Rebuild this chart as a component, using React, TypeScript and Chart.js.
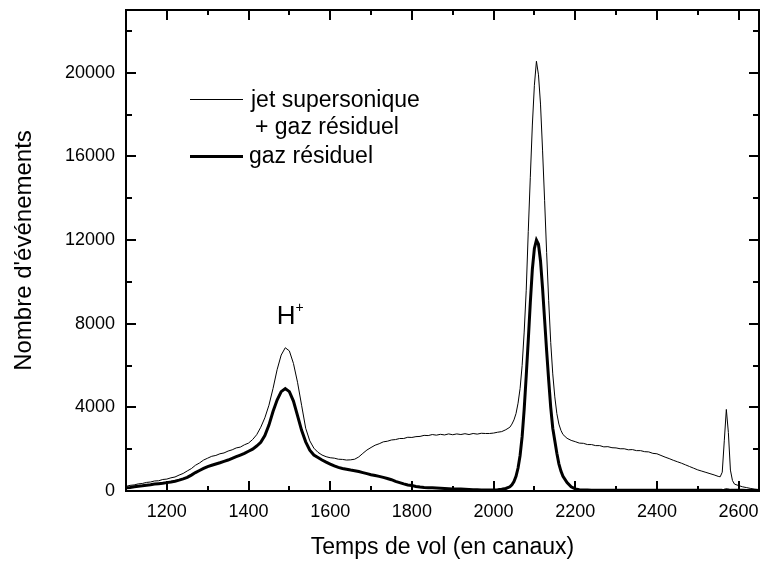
import React, { useEffect, useRef } from "react";
import { Chart, registerables } from "chart.js";

Chart.register(...registerables);

// Channels (temps de vol, en canaux)
const channels = [
  1100, 1110, 1120, 1130, 1140, 1150, 1160, 1170, 1180, 1190,
  1200, 1210, 1220, 1230, 1240, 1250, 1260, 1270, 1280, 1290,
  1300, 1310, 1320, 1330, 1340, 1350, 1360, 1370, 1380, 1390,
  1400, 1410, 1420, 1430, 1440, 1450, 1460, 1470, 1480, 1490,
  1500, 1510, 1520, 1530, 1540, 1550, 1560, 1570, 1580, 1590,
  1600, 1610, 1620, 1630, 1640, 1650, 1660, 1670, 1680, 1690,
  1700, 1710, 1720, 1730, 1740, 1750, 1760, 1770, 1780, 1790,
  1800, 1810, 1820, 1830, 1840, 1850, 1860, 1870, 1880, 1890,
  1900, 1910, 1920, 1930, 1940, 1950, 1960, 1970, 1980, 1990,
  2000, 2010, 2020, 2030, 2040,
  2045, 2050, 2055, 2060, 2065, 2070, 2075, 2080, 2085, 2090,
  2095, 2100, 2105, 2110, 2115, 2120, 2125, 2130, 2135, 2140,
  2145, 2150, 2155, 2160, 2165, 2170,
  2180, 2190, 2200, 2210, 2220, 2230, 2240, 2250, 2260, 2270,
  2280, 2290, 2300, 2310, 2320, 2330, 2340, 2350, 2360, 2370,
  2380, 2390, 2400, 2410, 2420, 2430, 2440, 2450, 2460, 2470,
  2480, 2490, 2500, 2510, 2520, 2530, 2540, 2550,
  2555, 2560, 2565, 2570, 2575, 2580, 2585, 2590,
  2600, 2610, 2620, 2630, 2640, 2650,
];

// jet supersonique + gaz résiduel (thin line)
const jetValues = [
  220, 270, 290, 340, 360, 410, 430, 480, 490, 550,
  570, 630, 670, 760, 840, 960, 1070, 1230, 1340, 1480,
  1570, 1660, 1700, 1780, 1820, 1910, 1970, 2060, 2100, 2210,
  2290, 2460, 2690, 3050, 3500, 4100, 4900, 5800, 6500, 6850,
  6700, 6100, 5200, 4100, 3000, 2400, 2050, 1850, 1720, 1640,
  1590, 1570, 1520, 1510, 1480, 1490, 1520, 1630, 1800, 1960,
  2080, 2190, 2260, 2350, 2380, 2440, 2460, 2510, 2510, 2570,
  2560, 2600, 2610, 2660, 2650, 2700, 2670, 2710, 2680, 2730,
  2690, 2730, 2700, 2740, 2700, 2750, 2720, 2760, 2750, 2750,
  2770, 2810, 2840, 2930, 3050,
  3200, 3400, 3700, 4200, 4900, 6000, 7600, 9600, 12400, 15000,
  17500, 19400, 20550, 19900, 18500, 16300, 13900, 11400, 9100, 7100,
  5600, 4500, 3700, 3200, 2900, 2700,
  2520, 2420, 2360, 2290, 2280, 2220, 2220, 2170, 2170, 2110,
  2120, 2070, 2060, 2020, 2020, 1970, 1980, 1930, 1930, 1880,
  1870, 1800, 1780, 1700, 1620, 1550, 1470, 1400, 1330, 1250,
  1170, 1090, 1010, 950, 890, 830, 770, 700,
  680, 900, 2400, 3900, 2800, 1000, 500, 330,
  260, 200, 160, 120, 90, 70,
];

// gaz résiduel (thick line)
const residualValues = [
  150, 170, 200, 230, 250, 280, 300, 330, 350, 370,
  400, 430, 470, 520, 580, 650, 760, 880, 980, 1080,
  1170, 1230, 1290, 1350, 1420, 1480, 1560, 1640, 1720, 1800,
  1900, 2000, 2150, 2330, 2650, 3150, 3800, 4350, 4750, 4900,
  4750, 4300, 3600, 2900, 2350, 1950, 1720, 1600, 1480, 1380,
  1290, 1200, 1130, 1080, 1040, 1000, 970, 930, 880, 830,
  780, 740, 700, 650, 600, 540, 460, 400, 340, 290,
  260, 220, 190, 170, 160, 150, 140, 130, 120, 110,
  100, 90, 90, 80, 70, 60, 60, 50, 50, 50,
  50, 60, 80, 120, 200,
  300, 450, 700, 1100, 1700, 2600, 3900, 5500, 7200, 9000,
  10600, 11600, 12000, 11800, 11000, 9700, 8200, 6700, 5300, 4000,
  3000, 2400, 1800, 1300, 950, 700,
  400, 200, 100, 60, 50, 50, 40, 40, 40, 30,
  30, 30, 30, 30, 30, 30, 30, 30, 30, 30,
  30, 30, 30, 30, 30, 30, 30, 30, 30, 30,
  30, 30, 30, 30, 30, 30, 30, 30,
  30, 30, 40, 60, 50, 30, 30, 30,
  30, 30, 20, 20, 20, 20,
];

const xTickValues = [1200, 1400, 1600, 1800, 2000, 2200, 2400, 2600];
const xAllTicks = [1100, 1200, 1300, 1400, 1500, 1600, 1700, 1800, 1900, 2000, 2100, 2200, 2300, 2400, 2500, 2600];
const yTickValues = [0, 4000, 8000, 12000, 16000, 20000];
const yAllTicks = [0, 2000, 4000, 6000, 8000, 10000, 12000, 14000, 16000, 18000, 20000, 22000];

const xTitle = "Temps de vol (en canaux)";
const yTitle = "Nombre d'événements";
const legendJetLine1 = "jet supersonique";
const legendJetLine2 = "+ gaz résiduel";
const legendResidual = "gaz résiduel";
const peakLabel = "H";
const peakLabelSup = "+";

const FONT = '"Liberation Sans", Arial, Helvetica, sans-serif';

export default function App() {
  const canvasRef = useRef<HTMLCanvasElement | null>(null);

  useEffect(() => {
    const canvas = canvasRef.current;
    if (!canvas) return;

    const framePlugin = {
      id: "frameTicksLegend",
      afterDraw(chart: any) {
        const { ctx, chartArea: a, scales } = chart;
        const xs = scales.x;
        const ys = scales.y;
        ctx.save();
        ctx.strokeStyle = "#000";
        ctx.lineWidth = 2;
        ctx.strokeRect(a.left, a.top, a.right - a.left, a.bottom - a.top);
        ctx.beginPath();
        for (const v of xAllTicks) {
          const px = Math.round(xs.getPixelForValue(v));
          if (px <= a.left + 1) continue;
          const len = xTickValues.includes(v) ? 10 : 5;
          ctx.moveTo(px, a.bottom);
          ctx.lineTo(px, a.bottom - len);
          ctx.moveTo(px, a.top);
          ctx.lineTo(px, a.top + len);
        }
        for (const v of yAllTicks) {
          const py = Math.round(ys.getPixelForValue(v));
          if (py >= a.bottom - 1) continue;
          const len = yTickValues.includes(v) ? 10 : 6;
          ctx.moveTo(a.left, py);
          ctx.lineTo(a.left + len, py);
          ctx.moveTo(a.right, py);
          ctx.lineTo(a.right - len, py);
        }
        ctx.stroke();

        // Legend
        ctx.fillStyle = "#000";
        ctx.textAlign = "left";
        ctx.textBaseline = "alphabetic";
        ctx.font = `23px ${FONT}`;
        ctx.lineWidth = 1;
        ctx.beginPath();
        ctx.moveTo(190, 99.5);
        ctx.lineTo(243, 99.5);
        ctx.stroke();
        ctx.lineWidth = 3;
        ctx.beginPath();
        ctx.moveTo(190, 156.5);
        ctx.lineTo(243, 156.5);
        ctx.stroke();
        ctx.fillText(legendJetLine1, 251, 107);
        ctx.fillText(legendJetLine2, 255, 134);
        ctx.fillText(legendResidual, 249, 163);

        // Peak annotation
        const hx = xs.getPixelForValue(1469);
        const hy = ys.getPixelForValue(7980);
        ctx.font = `26px ${FONT}`;
        ctx.fillText(peakLabel, hx, hy);
        const hw = ctx.measureText(peakLabel).width;
        ctx.font = `14px ${FONT}`;
        ctx.fillText(peakLabelSup, hx + hw, hy - 12);
        ctx.restore();
      },
    };

    const chart = new Chart(canvas, {
      type: "line",
      data: {
        datasets: [
          {
            label: "jet supersonique + gaz résiduel",
            data: channels.map((c, i) => ({ x: c, y: jetValues[i] })),
            borderColor: "#000",
            borderWidth: 1,
            pointRadius: 0,
            tension: 0,
            fill: false,
          },
          {
            label: "gaz résiduel",
            data: channels.map((c, i) => ({ x: c, y: residualValues[i] })),
            borderColor: "#000",
            borderWidth: 3,
            pointRadius: 0,
            tension: 0,
            fill: false,
          },
        ],
      },
      options: {
        animation: false,
        responsive: false,
        events: [],
        layout: { padding: { top: 10, right: 3, left: 0, bottom: 0 } },
        plugins: {
          legend: { display: false },
          tooltip: { enabled: false },
        },
        scales: {
          x: {
            type: "linear",
            min: 1100,
            max: 2650,
            grid: { display: false, drawTicks: false },
            border: { display: false },
            afterBuildTicks: (s: any) => {
              s.ticks = xTickValues.map((value) => ({ value }));
            },
            afterFit: (s: any) => {
              s.height = 70;
              s.paddingLeft = 0;
              s.paddingRight = 0;
            },
            ticks: {
              callback: (v: any) => String(v),
              font: { family: FONT, size: 18 },
              color: "#000",
              padding: 10,
              maxRotation: 0,
              autoSkip: false,
            },
            title: {
              display: true,
              text: xTitle,
              font: { family: FONT, size: 23 },
              color: "#000",
              padding: { top: 0, bottom: 0 },
            },
          },
          y: {
            type: "linear",
            min: 0,
            max: 23000,
            grid: { display: false, drawTicks: false },
            border: { display: false },
            afterBuildTicks: (s: any) => {
              s.ticks = yTickValues.map((value) => ({ value }));
            },
            afterFit: (s: any) => {
              s.width = 126;
              s.paddingTop = 0;
              s.paddingBottom = 0;
            },
            ticks: {
              callback: (v: any) => String(v),
              font: { family: FONT, size: 18 },
              color: "#000",
              padding: 11,
              autoSkip: false,
            },
            title: {
              display: true,
              text: yTitle,
              font: { family: FONT, size: 24 },
              color: "#000",
              padding: { top: 10, bottom: 0 },
            },
          },
        },
      },
      plugins: [framePlugin],
    });

    return () => chart.destroy();
  }, []);

  return (
    <div style={{ position: "absolute", left: 0, top: 0, width: 762, height: 561, background: "#fff" }}>
      <canvas ref={canvasRef} width={762} height={561} style={{ display: "block" }} />
    </div>
  );
}
